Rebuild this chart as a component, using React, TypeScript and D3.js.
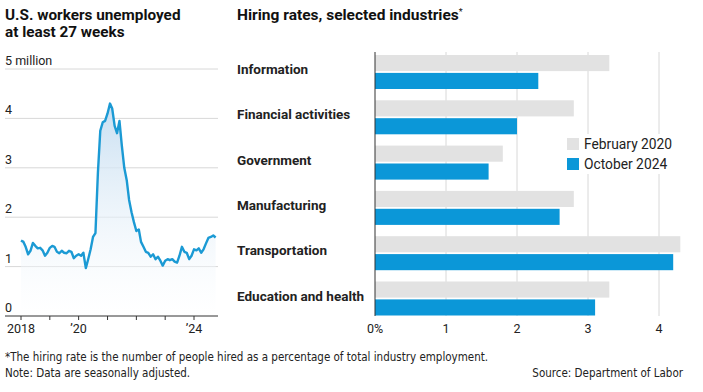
import * as d3 from 'd3';

// long-term unemployed (27+ weeks), millions, monthly from Jan 2018
const longTermStart = [2018, 0];
const longTermValues = [
  1.53, 1.5, 1.4, 1.25, 1.32, 1.48, 1.42, 1.37, 1.38, 1.33, 1.22, 1.28,
  1.38, 1.42, 1.4, 1.3, 1.27, 1.32, 1.28, 1.27, 1.32, 1.3, 1.17, 1.22,
  1.25, 1.22, 1.28, 0.97, 1.15, 1.35, 1.6, 1.68, 2.9, 3.75, 3.92, 3.95,
  4.1, 4.3, 4.2, 3.85, 3.7, 3.95, 3.45, 3.0, 2.75, 2.35, 2.1, 1.9,
  1.72, 1.75, 1.5, 1.4, 1.3, 1.28, 1.2, 1.25, 1.15, 1.2, 1.12, 1.02,
  1.12, 1.15, 1.13, 1.15, 1.1, 1.08, 1.22, 1.4, 1.3, 1.28, 1.15, 1.22,
  1.35, 1.33, 1.37, 1.28, 1.35, 1.47, 1.58, 1.6, 1.63, 1.59
];
const leftYTicks = [0, 1, 2, 3, 4, 5];
const leftXTickYears = [2018, 2019, 2020, 2021, 2022, 2023, 2024];
const leftXLabels: Record<number, string> = { 2018: '2018', 2020: '\u201920', 2024: '\u201924' };

const industries = [
  'Information',
  'Financial activities',
  'Government',
  'Manufacturing',
  'Transportation',
  'Education and health'
];
const feb2020 = [3.3, 2.8, 1.8, 2.8, 4.3, 3.3];
const oct2024 = [2.3, 2.0, 1.6, 2.6, 4.2, 3.1];
const rateTicks = [0, 1, 2, 3, 4];

const BLUE = '#0b97d8';
const LINE = '#1b9ad4';
const GREY = '#e2e2e2';
const GRID = '#d8d8d8';
const TEXT = '#222';
const SANS = 'Roboto, "Noto Sans", sans-serif';
const NARROW = '"Liberation Sans Narrow", "DejaVu Sans Condensed", sans-serif';

const LongTermChart = () => {
  const dates = longTermValues.map((_, i) => new Date(longTermStart[0], longTermStart[1] + i, 1));
  const x = d3.scaleTime().domain([new Date(2018, 0, 1), new Date(2024, 0, 1)]).range([21, 194]);
  const y = d3.scaleLinear().domain([0, 5]).range([316, 69]);
  const pts = longTermValues.map((v, i) => [dates[i], v] as [Date, number]);
  const line = d3.line<[Date, number]>().x(d => x(d[0])).y(d => y(d[1]));
  const area = d3.area<[Date, number]>().x(d => x(d[0])).y0(y(0)).y1(d => y(d[1]));

  return (
    <g>
      <defs>
        <linearGradient id="ltFill" x1="0" x2="0" y1={y(4.3)} y2={y(0)} gradientUnits="userSpaceOnUse">
          <stop offset="0" stopColor="#c5ddf1" stopOpacity={0.95} />
          <stop offset="1" stopColor="#ffffff" stopOpacity={0.3} />
        </linearGradient>
      </defs>
      {leftYTicks.filter(t => t > 0).map(t => (
        <line key={t} x1={5} x2={218} y1={y(t)} y2={y(t)} stroke={GRID} strokeWidth={1} />
      ))}
      {leftYTicks.map(t => (
        <text key={t} x={5} y={y(t) - 4} fontSize={12.5} fill={TEXT} fontFamily={SANS}>
          {t === 5 ? '5 million' : t}
        </text>
      ))}
      <path d={area(pts) || ''} fill="url(#ltFill)" />
      <path d={line(pts) || ''} fill="none" stroke={LINE} strokeWidth={2.4} strokeLinejoin="round" />
      <line x1={5} x2={218} y1={y(0)} y2={y(0)} stroke="#333" strokeWidth={1} />
      {leftXTickYears.map(yr => (
        <line key={yr} x1={x(new Date(yr, 0, 1))} x2={x(new Date(yr, 0, 1))} y1={y(0)} y2={y(0) + 4} stroke="#333" />
      ))}
      {leftXTickYears.filter(yr => leftXLabels[yr]).map(yr => (
        <text key={yr} x={x(new Date(yr, 0, 1))} y={333} textAnchor="middle" fontSize={12.5} fill={TEXT} fontFamily={SANS}>
          {leftXLabels[yr]}
        </text>
      ))}
    </g>
  );
};

const HiringChart = () => {
  const x = d3.scaleLinear().domain([0, 4]).range([375, 659]);
  const band = d3.scaleBand().domain(industries).range([55, 55 + 6 * 45.3]);
  const sub = d3.scaleBand().domain(['feb', 'oct']).range([0, 34]).paddingInner(0.1);
  const top = 52;
  const bottom = 316;

  return (
    <g>
      {rateTicks.filter(t => t > 0).map(t => (
        <line key={t} x1={x(t)} x2={x(t)} y1={top} y2={bottom} stroke={GRID} strokeWidth={1} />
      ))}
      {industries.map((name, i) => {
        const y0 = band(name) || 0;
        return (
          <g key={name}>
            <rect x={x(0)} y={y0 + (sub('feb') || 0)} width={x(feb2020[i]) - x(0)} height={sub.bandwidth()} fill={GREY} />
            <rect x={x(0)} y={y0 + (sub('oct') || 0)} width={x(oct2024[i]) - x(0)} height={sub.bandwidth()} fill={BLUE} />
            <text x={237} y={y0 + 19} fontSize={13.5} fontWeight={700} fill={TEXT} fontFamily={SANS}>
              {name}
            </text>
          </g>
        );
      })}
      <line x1={x(0)} x2={x(0)} y1={top} y2={bottom} stroke="#333" strokeWidth={1} />
      {rateTicks.map(t => (
        <text key={t} x={x(t)} y={333} textAnchor="middle" fontSize={12.5} fill={TEXT} fontFamily={SANS}>
          {t === 0 ? '0%' : t}
        </text>
      ))}
      <rect x={562} y={134} width={112} height={40} fill="#fff" />
      <rect x={567} y={138} width={12} height={12} fill={GREY} />
      <text x={584} y={148.5} fontSize={13.8} fill={TEXT} fontFamily={SANS}>February 2020</text>
      <rect x={567} y={158} width={12} height={12} fill={BLUE} />
      <text x={584} y={168.5} fontSize={13.8} fill={TEXT} fontFamily={SANS}>October 2024</text>
    </g>
  );
};

const App = () => {
  return (
    <svg width={703} height={392} style={{ position: 'absolute', left: 0, top: 0, background: '#fff' }}>
      <rect width={703} height={392} fill="#fff" />
      <text fontSize={15.3} fontWeight={700} fill="#111" fontFamily={SANS}>
        <tspan x={5} y={20}>U.S. workers unemployed</tspan>
        <tspan x={5} y={37}>at least 27 weeks</tspan>
      </text>
      <text x={237} y={20} fontSize={15.5} fontWeight={700} fill="#111" fontFamily={SANS}>
        Hiring rates, selected industries
        <tspan fontSize={9} fontWeight={400} dy={-5}>*</tspan>
      </text>
      <LongTermChart />
      <HiringChart />
      <text x={5} y={361} fontSize={11.5} fill={TEXT} fontFamily={NARROW}>
        *The hiring rate is the number of people hired as a percentage of total industry employment.
      </text>
      <text x={5} y={377} fontSize={11.5} fill={TEXT} fontFamily={NARROW}>
        Note: Data are seasonally adjusted.
      </text>
      <text x={683} y={377} textAnchor="end" fontSize={11.5} fill={TEXT} fontFamily={NARROW}>
        Source: Department of Labor
      </text>
    </svg>
  );
};

export default App;
